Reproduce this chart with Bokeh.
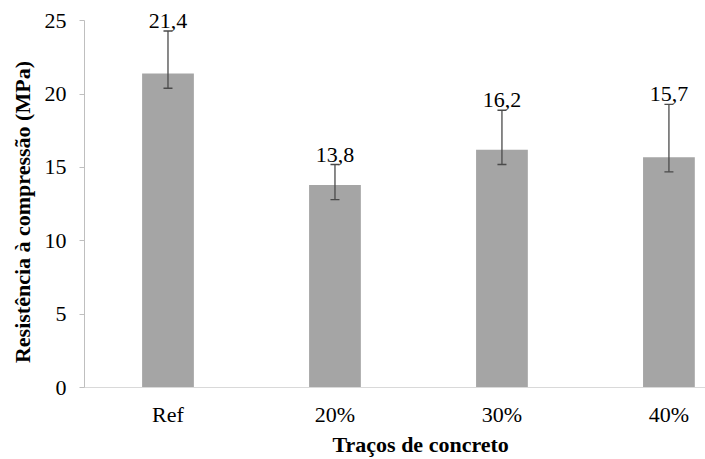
import math
from bokeh.plotting import figure
from bokeh.layouts import row
from bokeh.models import Range1d, FixedTicker, Whisker, ColumnDataSource, TeeHead, LabelSet, Title
from bokeh.embed import file_html
from bokeh.resources import INLINE
from bokeh.core.properties import value

categories = ["Ref", "20%", "30%", "40%"]
means = [21.4, 13.8, 16.2, 15.7]
lower = [20.4, 12.8, 15.2, 14.7]
upper = [24.3, 15.2, 18.9, 19.3]
labels = ["21,4", "13,8", "16,2", "15,7"]
y_ticks = [0, 5, 10, 15, 20, 25]
x_title = "Traços de concreto"
y_title = "Resistência à compressão (MPa)"

xpos = [i + 0.5 for i in range(len(categories))]
src = ColumnDataSource(dict(x=xpos, top=means, lower=lower, upper=upper, labels=labels))

FONT = "Liberation Serif"
FS = "22px"
W, H = 705, 459
LEFT_W = 40
MB = 72

yr = Range1d(0, 26.38)


def clean(fig):
    fig.outline_line_color = None
    fig.xgrid.grid_line_color = None
    fig.ygrid.grid_line_color = None
    fig.background_fill_color = "white"
    fig.border_fill_color = "white"


p = figure(width=W - LEFT_W, height=H, output_backend="svg", toolbar_location=None,
           x_range=Range1d(0, 3.719), y_range=yr,
           min_border_left=84 - LEFT_W, min_border_right=0, min_border_top=0, min_border_bottom=MB)
clean(p)

p.vbar(x="x", top="top", width=0.31, bottom=0, source=src, fill_color="#A5A5A5", line_color=None)

EB = "#4A4A4A"
w = Whisker(base="x", upper="upper", lower="lower", source=src, line_color=EB, line_width=1.3,
            upper_head=TeeHead(size=9, line_color=EB, line_width=1.3),
            lower_head=TeeHead(size=9, line_color=EB, line_width=1.3), level="overlay")
p.add_layout(w)

lab = LabelSet(x="x", y="upper", text="labels", source=src, text_align="center",
               text_baseline="alphabetic", y_offset=3, text_font=FONT, text_font_size=FS,
               text_color="black")
p.add_layout(lab)

# y axis
ya = p.yaxis[0]
ya.ticker = FixedTicker(ticks=y_ticks)
ya.bounds = (0, 25)
ya.axis_line_color = "#BFBFBF"
ya.major_tick_line_color = "#BFBFBF"
ya.major_tick_out = 5
ya.major_tick_in = 0
ya.minor_tick_line_color = None
ya.major_label_text_font = FONT
ya.major_label_text_font_size = FS
ya.major_label_text_color = "black"
ya.major_label_standoff = 13

# x axis
xa = p.xaxis[0]
xa.ticker = FixedTicker(ticks=xpos)
xa.major_label_overrides = {xv: c for xv, c in zip(xpos, categories)}
xa.axis_line_color = "#D9D9D9"
xa.major_tick_line_color = None
xa.minor_tick_line_color = None
xa.major_label_text_font = FONT
xa.major_label_text_font_size = FS
xa.major_label_text_color = "black"
xa.major_label_standoff = 8

# x-axis title, placed below the tick labels
p.add_layout(Title(text=x_title, align="left", offset=248, standoff=0, text_font=FONT,
                   text_font_size=FS, text_font_style="bold", text_color="black"), "below")

# narrow left panel holding the y-axis title
pl = figure(width=LEFT_W, height=H, output_backend="svg", toolbar_location=None,
            x_range=Range1d(0, LEFT_W), y_range=yr, x_axis_location=None, y_axis_location=None,
            min_border_left=0, min_border_right=0, min_border_top=0, min_border_bottom=MB)
clean(pl)
pl.text(x=[21.5], y=[11.96], text=[y_title], angle=math.pi / 2, text_align="center",
        text_baseline="middle", text_font=value(FONT), text_font_size=FS,
        text_font_style="bold", text_color="black")

layout = row(pl, p)
open("out.html", "w").write(file_html(layout, INLINE))
